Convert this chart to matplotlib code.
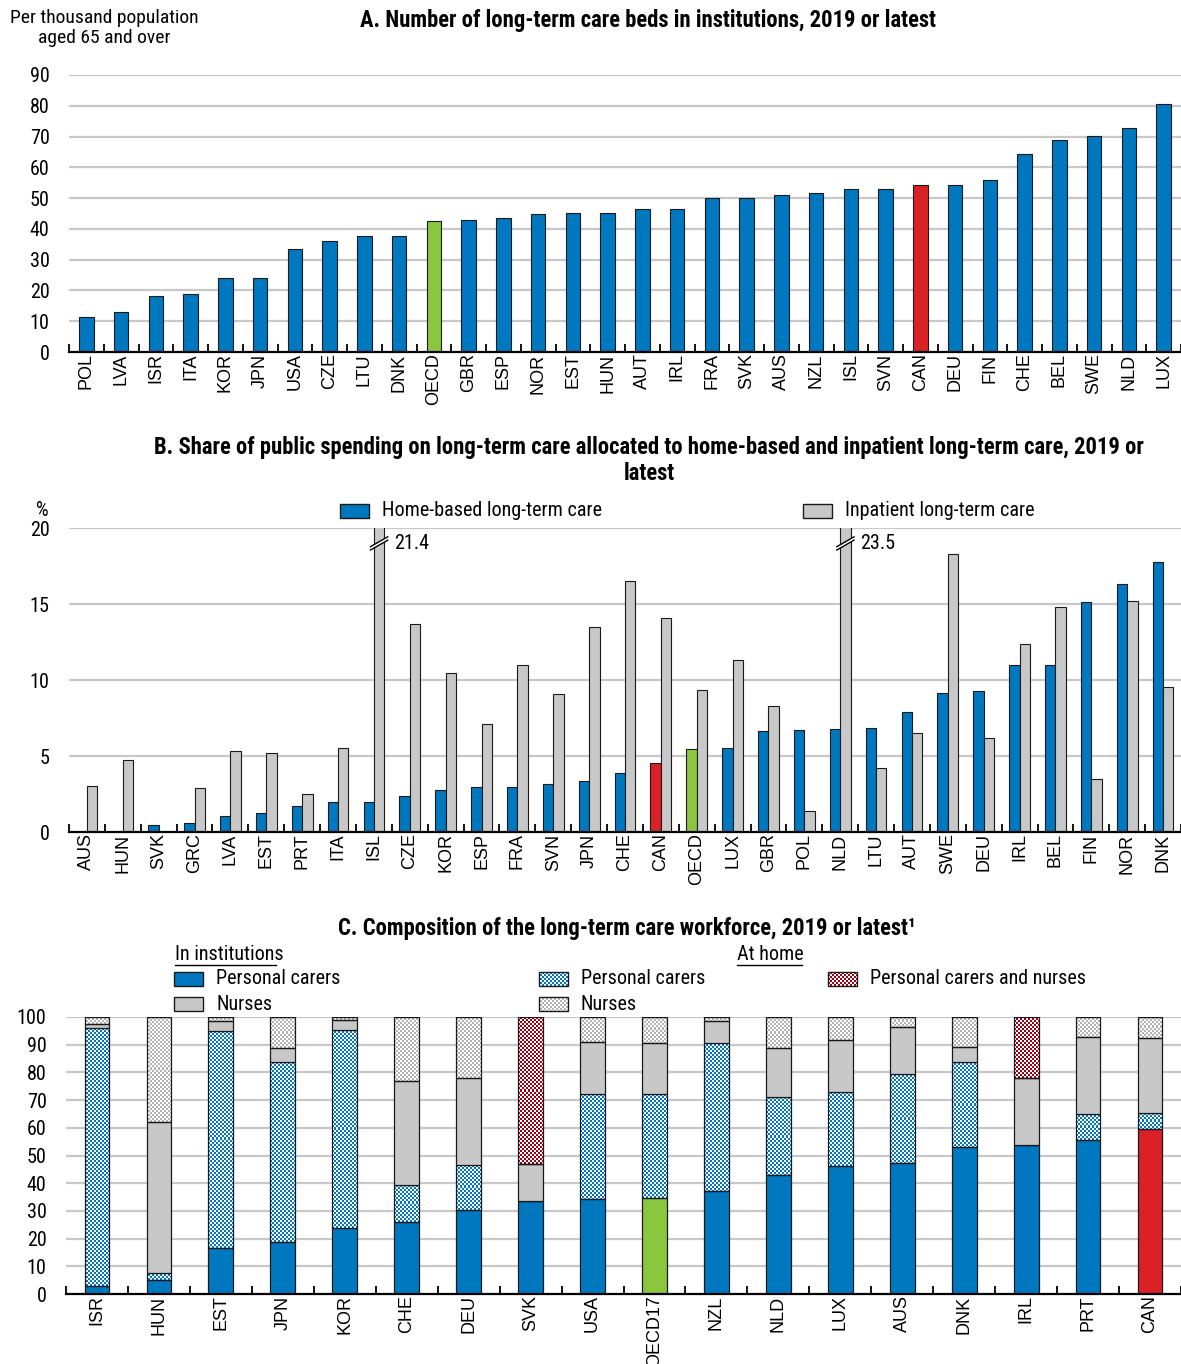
import numpy as np
import matplotlib
matplotlib.use("Agg")
import matplotlib.pyplot as plt
from matplotlib.patches import Rectangle, Polygon
from matplotlib.colors import to_rgb

# ---------------- data ----------------
# Panel A: long-term care beds in institutions per 1000 population aged 65+
beds_countries = ["POL", "LVA", "ISR", "ITA", "KOR", "JPN", "USA", "CZE", "LTU", "DNK",
                  "OECD", "GBR", "ESP", "NOR", "EST", "HUN", "AUT", "IRL", "FRA", "SVK",
                  "AUS", "NZL", "ISL", "SVN", "CAN", "DEU", "FIN", "CHE", "BEL", "SWE",
                  "NLD", "LUX"]
beds_values = [11.4, 13.1, 18.3, 18.7, 24.0, 24.1, 33.4, 36.1, 37.6, 37.7,
               42.6, 42.8, 43.7, 44.8, 45.1, 45.3, 46.3, 46.3, 49.9, 49.9,
               51.0, 51.5, 53.0, 53.0, 54.4, 54.4, 56.0, 64.2, 69.0, 70.3,
               72.9, 80.7]

# Panel B: share of public LTC spending, home-based vs inpatient (%)
spend_countries = ["AUS", "HUN", "SVK", "GRC", "LVA", "EST", "PRT", "ITA", "ISL", "CZE",
                   "KOR", "ESP", "FRA", "SVN", "JPN", "CHE", "CAN", "OECD", "LUX", "GBR",
                   "POL", "NLD", "LTU", "AUT", "SWE", "DEU", "IRL", "BEL", "FIN", "NOR",
                   "DNK"]
home_based = [0.0, 0.0, 0.46, 0.61, 1.07, 1.25, 1.69, 1.97, 1.97, 2.35,
              2.76, 2.94, 2.94, 3.18, 3.38, 3.88, 4.54, 5.48, 5.55, 6.67,
              6.69, 6.75, 6.82, 7.87, 9.17, 9.30, 10.99, 10.99, 15.15, 16.34,
              17.79]
inpatient = [3.03, 4.71, 0.0, 2.89, 5.35, 5.20, 2.50, 5.55, 21.4, 13.7,
             10.46, 7.11, 10.99, 9.10, 13.49, 16.54, 14.08, 9.36, 11.32, 8.27,
             1.40, 23.5, 4.21, 6.54, 18.31, 6.18, 12.39, 14.80, 3.46, 15.18,
             9.52]

# Panel C: composition of the LTC workforce (% of total)
work_countries = ["ISR", "HUN", "EST", "JPN", "KOR", "CHE", "DEU", "SVK", "USA", "OECD17",
                  "NZL", "NLD", "LUX", "AUS", "DNK", "IRL", "PRT", "CAN"]
inst_carers = [3.0, 5.2, 16.6, 18.7, 23.9, 26.0, 30.4, 33.7, 34.3, 34.7,
               37.3, 43.1, 46.3, 47.4, 53.1, 53.9, 55.6, 59.7]
home_carers = [93.0, 2.4, 78.5, 65.2, 71.5, 13.4, 16.3, 0.0, 37.9, 37.5,
               53.3, 27.9, 26.6, 31.9, 30.8, 0.0, 9.4, 5.5]
inst_nurses = [1.6, 54.4, 3.3, 4.9, 3.5, 37.6, 31.4, 13.2, 18.8, 18.4,
               8.1, 17.8, 18.8, 17.0, 5.4, 24.1, 27.8, 27.2]
home_nurses = [2.4, 38.0, 1.6, 11.2, 1.1, 23.0, 21.9, 0.0, 9.0, 9.4,
               1.3, 11.2, 8.3, 3.7, 10.7, 0.0, 7.2, 7.6]
home_both = [0.0, 0.0, 0.0, 0.0, 0.0, 0.0, 0.0, 53.1, 0.0, 0.0,
             0.0, 0.0, 0.0, 0.0, 0.0, 22.0, 0.0, 0.0]

# ---------------- style ----------------
BLUE = "#0078C0"
GRAY = "#C8C8C8"
GREEN = "#8CC63F"
RED = "#DA2128"
DARKRED = "#A00010"
CHECK_GRAY = "#B4B4B4"
GRID = "#C8C8C8"
EDGE = "#1A1A1A"

NARROW = ["Roboto Condensed", "DejaVu Sans"]
WIDE = ["Liberation Sans", "DejaVu Sans"]
plt.rcParams["font.family"] = NARROW

W, H = 1181, 1364
fig = plt.figure(figsize=(W / 100, H / 100), dpi=100)


def px_axes(left, top, right, bottom):
    return fig.add_axes([left / W, 1 - bottom / H, (right - left) / W, (bottom - top) / H])


def style_axes(ax, labels, ymax, yticks, xright):
    n = len(labels)
    ax.set_xlim(-0.5, xright)
    ax.set_ylim(0, ymax)
    ax.set_autoscale_on(False)
    for s in ("top", "right", "left"):
        ax.spines[s].set_visible(False)
    ax.spines["bottom"].set_linewidth(1.6)
    ax.spines["bottom"].set_color("black")
    ax.spines["bottom"].set_zorder(5)
    ax.set_yticks(yticks)
    ax.set_yticklabels([str(v) for v in yticks], fontsize=14.5, family=NARROW)
    ax.tick_params(axis="y", length=0, pad=14)
    ax.set_xticks(np.arange(n))
    ax.set_xticklabels(labels, rotation=90, fontsize=13, family=WIDE)
    ax.tick_params(axis="x", which="major", length=0, pad=1)
    ax.set_xticks(np.arange(-0.5, n), minor=True)
    ax.tick_params(axis="x", which="minor", direction="in", length=6, width=1.3, color="black")
    for v in yticks[1:]:
        ax.axhline(v, color=GRID, lw=1.6, zorder=0)


def add_texture(ax, rect, color, cell=2):
    """Fill a rectangle with a fine two-colour checker (colour on white)."""
    x0, y0 = rect.get_x(), rect.get_y()
    x1, y1 = x0 + rect.get_width(), y0 + rect.get_height()
    if rect.get_height() == 0:
        return
    p0 = ax.transData.transform((x0, y0))
    p1 = ax.transData.transform((x1, y1))
    w = max(1, int(round(abs(p1[0] - p0[0]))))
    h = max(1, int(round(abs(p1[1] - p0[1]))))
    ox = int(round(min(p0[0], p1[0])))
    oy = int(round(min(p0[1], p1[1])))
    ii = np.arange(h)[:, None] + oy
    jj = np.arange(w)[None, :] + ox
    mask = ((ii // cell + jj // cell) % 2) == 0
    img = np.ones((h, w, 3))
    img[mask] = to_rgb(color)
    lo, hi = min(y0, y1), max(y0, y1)
    im = ax.imshow(img, extent=(x0, x1, lo, hi), origin="lower",
                   interpolation="nearest", aspect="auto", zorder=rect.get_zorder() - 0.1)
    im.set_clip_path(rect)


# ---------------- Panel A ----------------
axA = px_axes(69, 75, W, 352)
style_axes(axA, beds_countries, 90, list(range(0, 91, 10)), 31.31)
colA = [GREEN if c == "OECD" else RED if c == "CAN" else BLUE for c in beds_countries]
axA.bar(np.arange(len(beds_values)), beds_values, width=0.415, color=colA,
        edgecolor=EDGE, linewidth=0.8, zorder=3)
fig.text(648 / W, 1 - 21 / H, "A. Number of long-term care beds in institutions, 2019 or latest",
         ha="center", va="center", fontsize=16.3, fontweight="bold")
fig.text(104 / W, 1 - 28 / H, "Per thousand population\naged 65 and over",
         ha="center", va="center", fontsize=14, linespacing=1.2)

# ---------------- Panel B ----------------
axB = px_axes(69, 528, W, 832)
style_axes(axB, spend_countries, 20, [0, 5, 10, 15, 20], 30.3)
xb = np.arange(len(spend_countries))
bw = 0.29
colB = [GREEN if c == "OECD" else RED if c == "CAN" else BLUE for c in spend_countries]
axB.bar(xb - bw / 2, home_based, width=bw, color=colB, edgecolor=EDGE, linewidth=0.8, zorder=3)
axB.bar(xb + bw / 2, inpatient, width=bw, color=GRAY, edgecolor=EDGE, linewidth=0.8, zorder=3)
for i, v in enumerate(inpatient):
    if v > 20:
        cx = xb[i] + bw / 2
        # axis break across the truncated bar
        xs0, xs1 = cx - 0.24, cx + 0.24
        ya, yb = 18.55, 19.2
        gap = 0.22
        axB.add_patch(Polygon([(xs0, ya), (xs1, yb), (xs1, yb + gap), (xs0, ya + gap)],
                              closed=True, facecolor="white", edgecolor="none", zorder=4,
                              clip_on=False))
        axB.plot([xs0, xs1], [ya, yb], color="black", lw=1.0, zorder=5, clip_on=False)
        axB.plot([xs0, xs1], [ya + gap, yb + gap], color="black", lw=1.0, zorder=5, clip_on=False)
        axB.text(cx + 0.42, 18.95, f"{v:.1f}", ha="left", va="center", fontsize=14.5)

fig.text(649 / W, 1 - 460.5 / H,
         "B. Share of public spending on long-term care allocated to home-based and inpatient long-term care, 2019 or\nlatest",
         ha="center", va="center", fontsize=16.3, fontweight="bold", linespacing=1.2)

# ---------------- Panel C ----------------
axC = px_axes(66, 1017, W, 1294)
style_axes(axC, work_countries, 100, list(range(0, 101, 10)), 17.42)
xc = np.arange(len(work_countries))
cw = 0.40
col_ic = [GREEN if c == "OECD17" else RED if c == "CAN" else BLUE for c in work_countries]
ic = np.array(inst_carers)
hc = np.array(home_carers)
inn = np.array(inst_nurses)
hn = np.array(home_nurses)
hb = np.array(home_both)

axC.bar(xc, ic, width=cw, color=col_ic, edgecolor=EDGE, linewidth=0.9, zorder=3)
b_hc = axC.bar(xc, hc, bottom=ic, width=cw, facecolor="none", edgecolor=EDGE,
               linewidth=0.9, zorder=3)
axC.bar(xc, inn, bottom=ic + hc, width=cw, color=GRAY, edgecolor=EDGE, linewidth=0.9, zorder=3)
b_hn = axC.bar(xc, hn, bottom=ic + hc + inn, width=cw, facecolor="none", edgecolor=EDGE,
               linewidth=0.9, zorder=3)
b_hb = axC.bar(xc, hb, bottom=ic + hc + inn + hn, width=cw, facecolor="none", edgecolor=EDGE,
               linewidth=0.9, zorder=3)
for r in b_hc:
    add_texture(axC, r, BLUE)
for r in b_hn:
    add_texture(axC, r, CHECK_GRAY)
for r in b_hb:
    add_texture(axC, r, DARKRED)

fig.text(627 / W, 1 - 929 / H, "C. Composition of the long-term care workforce, 2019 or latest\u00b9",
         ha="center", va="center", fontsize=16.3, fontweight="bold")

# ---------------- legends (pixel overlay) ----------------
ov = fig.add_axes([0, 0, 1, 1])
ov.set_xlim(0, W)
ov.set_ylim(H, 0)
ov.set_autoscale_on(False)
ov.axis("off")


def legend_item(x, y, label, face=None, texture=None, pw=29, ph=14):
    r = Rectangle((x, y - ph / 2), pw, ph, facecolor=face if face else "none",
                  edgecolor=EDGE, linewidth=1.0, zorder=3)
    ov.add_patch(r)
    if texture:
        add_texture(ov, r, texture)
    ov.text(x + pw + 13, y, label, ha="left", va="center", fontsize=14.5)


# Panel B legend
legend_item(340, 511, "Home-based long-term care", face=BLUE)
legend_item(803, 511, "Inpatient long-term care", face=GRAY)
ov.text(42, 510, "%", ha="center", va="center", fontsize=14.5)

# Panel C legend
ov.text(175, 955, "In institutions", ha="left", va="center", fontsize=14.5)
ov.plot([175, 276], [964.5, 964.5], color="black", lw=1.0)
ov.text(737, 955, "At home", ha="left", va="center", fontsize=14.5)
ov.plot([737, 802], [964.5, 964.5], color="black", lw=1.0)
legend_item(174, 979, "Personal carers", face=BLUE)
legend_item(174, 1004, "Nurses", face=GRAY)
legend_item(539, 979, "Personal carers", texture=BLUE)
legend_item(539, 1004, "Nurses", texture=CHECK_GRAY)
legend_item(828, 979, "Personal carers and nurses", texture=DARKRED)

fig.savefig("out.png", dpi=100)
